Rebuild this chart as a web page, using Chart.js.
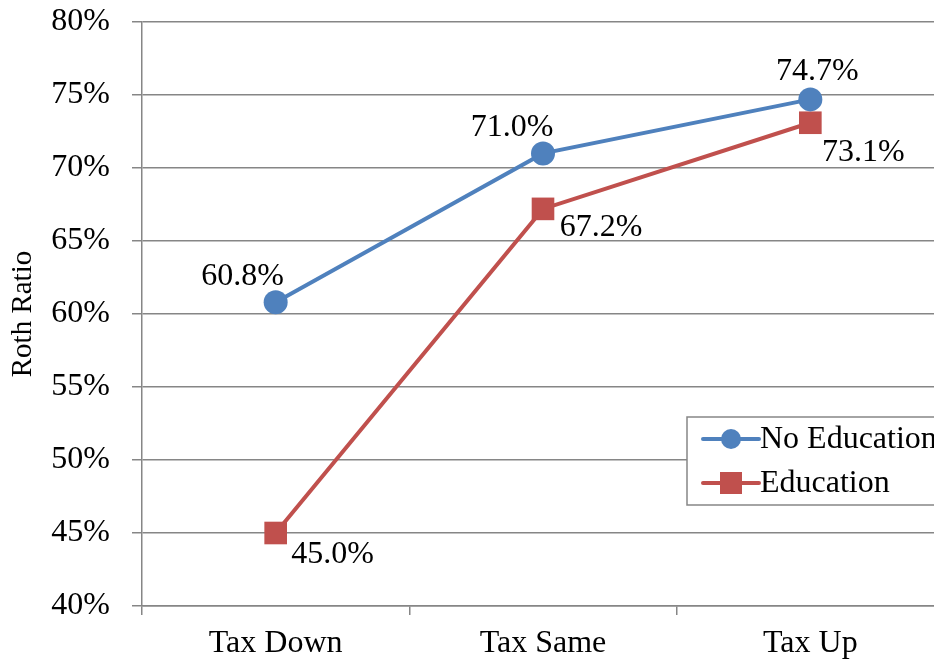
<!DOCTYPE html>
<html>
<head>
<meta charset="utf-8">
<script src="https://cdn.jsdelivr.net/npm/chart.js@4.4.1/dist/chart.umd.min.js"></script>
<style>
  html, body { margin: 0; padding: 0; background: #fff; overflow: hidden; }
  #wrap { width: 960px; height: 664px; }
</style>
</head>
<body>
<div id="wrap"><canvas id="roth" width="960" height="664"></canvas></div>
<script>
var categories = ['Tax Down', 'Tax Same', 'Tax Up']
var noEducation = [60.8, 71.0, 74.7]
var education = [45.0, 67.2, 73.1]
var yTicks = [40, 45, 50, 55, 60, 65, 70, 75, 80]

var FONT = '"Liberation Serif", "Times New Roman", serif'
var GRID = '#868686'

// label offsets from each point (px), Excel put them by hand
var labelOffsets = [
  [[-33, -26], [-31, -26], [7, -28]],
  [[57, 22], [58, 19], [53, 30]]
]

var pointLabels = {
  id: 'pointLabels',
  afterDatasetsDraw: function (chart) {
    var ctx = chart.ctx
    ctx.save()
    ctx.font = '32px ' + FONT
    ctx.fillStyle = '#000'
    ctx.textAlign = 'center'
    ctx.textBaseline = 'middle'
    chart.data.datasets.forEach(function (ds, i) {
      chart.getDatasetMeta(i).data.forEach(function (pt, j) {
        var off = labelOffsets[i][j]
        ctx.fillText(ds.data[j].toFixed(1) + '%', pt.x + off[0], pt.y + off[1])
      })
    })
    ctx.restore()
  }
}

// boxed legend sitting on the plot, clipped at the right like the original
var boxLegend = {
  id: 'boxLegend',
  afterDraw: function (chart) {
    var ctx = chart.ctx
    var x = 687, y = 417, w = 265, h = 88
    ctx.save()
    ctx.fillStyle = '#fff'
    ctx.fillRect(x, y, w, h)
    ctx.strokeStyle = GRID
    ctx.lineWidth = 1.5
    ctx.strokeRect(x, y, w, h)
    ctx.font = '32px ' + FONT
    ctx.textBaseline = 'middle'
    chart.data.datasets.forEach(function (ds, i) {
      var cy = y + 22 + i * 44
      ctx.strokeStyle = ds.borderColor
      ctx.lineWidth = 4
      ctx.lineCap = 'round'
      ctx.beginPath()
      ctx.moveTo(x + 16, cy)
      ctx.lineTo(x + 72, cy)
      ctx.stroke()
      ctx.fillStyle = ds.borderColor
      if (i === 0) {
        ctx.beginPath()
        ctx.arc(x + 44, cy, 10, 0, Math.PI * 2)
        ctx.fill()
      } else {
        ctx.fillRect(x + 33, cy - 11, 22, 22)
      }
      ctx.fillStyle = '#000'
      ctx.fillText(ds.label, x + 73, cy + 1)
    })
    ctx.restore()
  }
}

var lineData = {
  labels: categories,
  datasets: [
    {
      label: 'No Education',
      data: noEducation,
      borderColor: '#4F81BD',
      backgroundColor: '#4F81BD',
      borderWidth: 4,
      pointStyle: 'circle',
      pointRadius: 12,
      pointBorderWidth: 0
    },
    {
      label: 'Education',
      data: education,
      borderColor: '#C0504D',
      backgroundColor: '#C0504D',
      borderWidth: 4,
      pointStyle: 'rect',
      pointRadius: 16,
      pointBorderWidth: 0
    }
  ]
}

var chart = new Chart(document.getElementById('roth').getContext('2d'), {
  type: 'line',
  data: lineData,
  options: {
    responsive: false,
    animation: false,
    layout: { padding: { top: 22, right: 6, left: 0, bottom: 0 } },
    plugins: { legend: { display: false }, tooltip: { enabled: false } },
    scales: {
      x: {
        offset: true,
        grid: { offset: true, drawOnChartArea: false, color: GRID, lineWidth: 1.5, tickLength: 9 },
        border: { color: GRID, width: 1.5 },
        ticks: { color: '#000', font: { family: FONT, size: 32 }, padding: 9 },
        afterFit: function (s) { s.height = 58 }
      },
      y: {
        min: 40,
        max: 80,
        afterBuildTicks: function (s) { s.ticks = yTicks.map(function (v) { return { value: v } }) },
        grid: { color: GRID, lineWidth: 1.5, tickLength: 10 },
        border: { color: GRID, width: 1.5 },
        ticks: { color: '#000', font: { family: FONT, size: 32 }, padding: 22,
          callback: function (v) { return v + '%' } },
        title: { display: true, text: 'Roth Ratio', color: '#000', font: { family: FONT, size: 29 }, padding: { top: 6, bottom: 0 } },
        afterFit: function (s) {
          s.width = 142
          s.paddingTop = 0
          s.paddingBottom = 0
        }
      }
    }
  },
  plugins: [pointLabels, boxLegend]
})
</script>
</body>
</html>
